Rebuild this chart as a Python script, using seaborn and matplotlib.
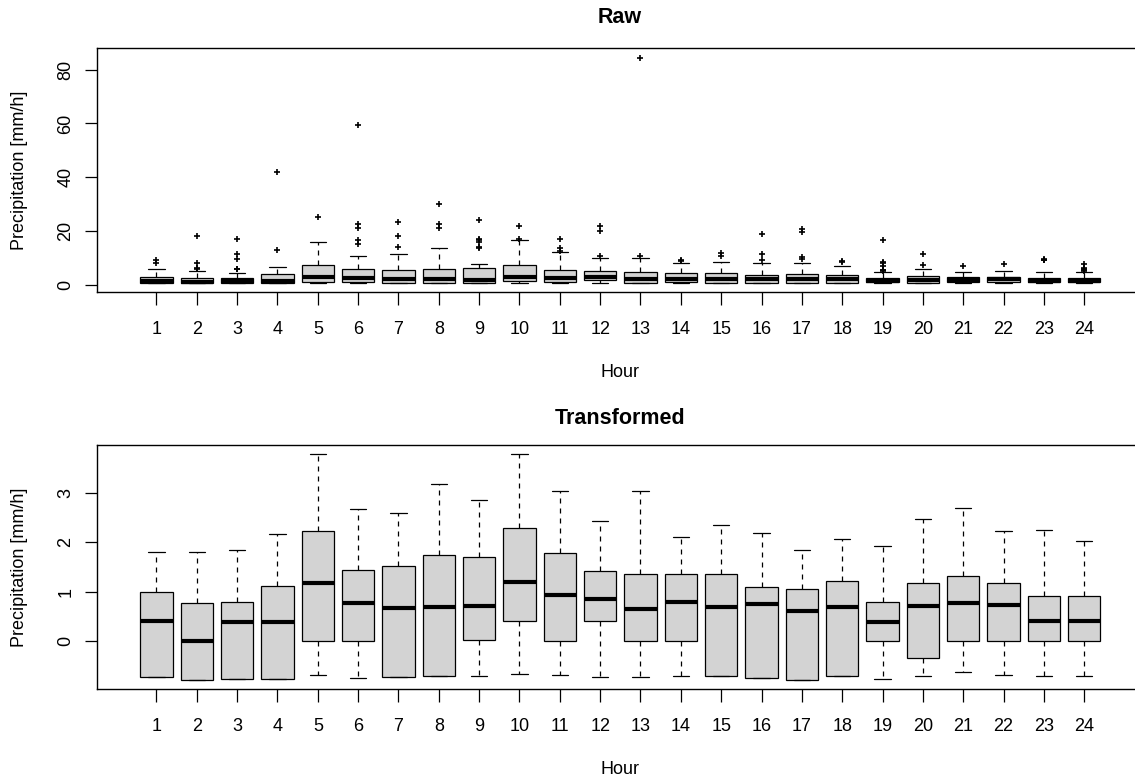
import matplotlib
matplotlib.use("Agg")
import matplotlib.pyplot as plt
import seaborn as sns

# Box statistics per hour
hours = list(range(1, 25))

raw_lo = [0.5, 0.45, 0.45, 0.45, 0.5, 0.5, 0.45, 0.45, 0.5, 0.5, 0.5, 0.5,
          0.5, 0.5, 0.45, 0.45, 0.45, 0.45, 0.45, 0.45, 0.5, 0.5, 0.5, 0.5]
raw_q1 = [0.5, 0.45, 0.45, 0.45, 1.0, 1.0, 0.45, 0.45, 0.8, 1.5, 0.9, 1.6,
          0.8, 0.9, 0.45, 0.45, 0.45, 0.45, 0.9, 0.7, 1.0, 1.0, 1.0, 1.0]
raw_med = [1.5, 1.0, 1.4, 1.4, 3.0, 2.5, 2.0, 2.0, 1.9, 3.0, 2.4, 2.7,
           2.0, 2.2, 2.0, 2.2, 2.0, 2.0, 1.5, 1.9, 1.9, 2.0, 1.5, 1.5]
raw_q3 = [3.0, 2.6, 2.6, 4.1, 7.5, 5.7, 5.6, 6.0, 6.1, 7.5, 5.6, 5.1,
          4.8, 4.2, 4.2, 3.7, 4.0, 3.6, 2.6, 3.3, 3.0, 3.0, 2.6, 2.6]
raw_hi = [6.0, 5.0, 4.5, 6.5, 16.0, 10.8, 11.5, 13.5, 7.7, 16.5, 12.0, 10.0,
          10.0, 8.0, 8.6, 8.1, 8.1, 7.1, 4.6, 5.7, 4.6, 5.1, 4.6, 4.6]
raw_out = [[8.1, 9.2], [5.8, 6.2, 8.0, 18.0], [5.8, 6.0, 9.5, 11.5, 17.0],
           [13.0, 42.0], [25.0], [15.0, 16.5, 21.0, 22.5, 59.5],
           [14.0, 18.0, 23.5], [21.0, 22.5, 30.0],
           [13.6, 14.0, 16.0, 16.5, 17.0, 24.0], [17.0, 22.0],
           [12.5, 13.5, 17.0], [10.5, 20.0, 22.0], [10.5, 84.5], [8.8, 9.3],
           [10.8, 11.8], [9.2, 11.5, 19.0], [9.7, 10.2, 19.5, 20.8], [8.3, 8.7],
           [5.0, 5.3, 5.6, 7.0, 8.0, 8.6, 16.5], [7.5, 11.5], [7.0], [7.6],
           [9.0, 9.2, 9.4], [5.2, 5.5, 5.8, 6.2, 7.6]]

tr_lo = [-0.74, -0.79, -0.78, -0.78, -0.68, -0.76, -0.73, -0.71, -0.70, -0.67, -0.69, -0.74,
         -0.74, -0.71, -0.71, -0.75, -0.79, -0.71, -0.77, -0.70, -0.63, -0.68, -0.70, -0.70]
tr_q1 = [-0.74, -0.79, -0.78, -0.78, 0.0, 0.0, -0.73, -0.71, 0.02, 0.41, 0.0, 0.40,
         0.0, 0.0, -0.71, -0.75, -0.79, -0.71, 0.0, -0.345, 0.0, 0.0, 0.0, 0.0]
tr_med = [0.40, 0.0, 0.385, 0.385, 1.17, 0.77, 0.66, 0.69, 0.70, 1.19, 0.94, 0.85,
          0.65, 0.80, 0.68, 0.74, 0.615, 0.68, 0.385, 0.70, 0.78, 0.72, 0.405, 0.405]
tr_q3 = [0.993, 0.78, 0.79, 1.12, 2.23, 1.446, 1.53, 1.74, 1.71, 2.30, 1.78, 1.42,
         1.36, 1.36, 1.35, 1.10, 1.05, 1.22, 0.80, 1.18, 1.32, 1.17, 0.92, 0.92]
tr_hi = [1.81, 1.81, 1.85, 2.16, 3.79, 2.67, 2.59, 3.19, 2.86, 3.79, 3.04, 2.43,
         3.05, 2.11, 2.36, 2.19, 1.84, 2.07, 1.93, 2.47, 2.70, 2.23, 2.24, 2.03]

sns.set_theme(style="ticks")
plt.rcParams['font.family'] = ['Liberation Sans', 'DejaVu Sans']
plt.rcParams['font.size'] = 13
plt.rcParams['text.color'] = 'black'
plt.rcParams['axes.labelcolor'] = 'black'


def box_stats(lo, q1, med, q3, hi, out=None):
    stats = []
    for i in range(len(lo)):
        stats.append({'whislo': lo[i], 'q1': q1[i], 'med': med[i], 'q3': q3[i],
                      'whishi': hi[i], 'fliers': out[i] if out else []})
    return stats


def draw_panel(ax, stats, ylim, yticks):
    ax.bxp(stats, positions=hours, widths=0.8, capwidths=0.4,
           patch_artist=True, manage_ticks=False,
           boxprops=dict(facecolor='#d3d3d3', edgecolor='black', linewidth=0.9),
           medianprops=dict(color='black', linewidth=3, solid_capstyle='butt'),
           whiskerprops=dict(color='black', linewidth=0.9, linestyle=(0, (4, 4))),
           capprops=dict(color='black', linewidth=0.9),
           flierprops=dict(marker='+', markersize=4, markeredgecolor='black',
                           markeredgewidth=1.2, linestyle='none'))
    ax.set_xlim(-0.468, 25.26)
    ax.set_ylim(*ylim)
    ax.set_xticks(hours)
    ax.set_xticklabels([str(h) for h in hours])
    ax.set_yticks(yticks)
    ax.set_yticklabels([str(t) for t in yticks], rotation=90, va='center')
    ax.tick_params(axis='both', length=9, width=0.9, color='black',
                   labelsize=13, labelcolor='black')
    ax.tick_params(axis='x', pad=11.5)
    ax.tick_params(axis='y', pad=7.5)
    for s in ['left', 'top', 'bottom']:
        ax.spines[s].set_color('black')
        ax.spines[s].set_linewidth(1.0)
    ax.spines['right'].set_visible(False)
    ax.set_facecolor('white')


fig = plt.figure(figsize=(11.35, 7.8), dpi=100)
fig.patch.set_facecolor('white')

ax1 = fig.add_axes([0.0857, 0.6253, 1 - 0.0857, 0.3128])
draw_panel(ax1, box_stats(raw_lo, raw_q1, raw_med, raw_q3, raw_hi, raw_out),
           (-2.83, 87.96), [0, 20, 40, 60, 80])

ax2 = fig.add_axes([0.0857, 0.1163, 1 - 0.0857, 0.3132])
draw_panel(ax2, box_stats(tr_lo, tr_q1, tr_med, tr_q3, tr_hi),
           (-0.979, 3.973), [0, 1, 2, 3])

fig.text(0.546, 0.9778, "Raw", ha='center', va='center', fontsize=15.5,
         fontweight='bold', color='black')
fig.text(0.546, 0.4637, "Transformed", ha='center', va='center', fontsize=15.5,
         fontweight='bold', color='black')
fig.text(0.546, 0.5227, "Hour", ha='center', va='center', fontsize=13, color='black')
fig.text(0.546, 0.0141, "Hour", ha='center', va='center', fontsize=13, color='black')
fig.text(0.0169, 0.7817, "Precipitation [mm/h]", ha='center', va='center',
         rotation=90, fontsize=13, color='black')
fig.text(0.0169, 0.2728, "Precipitation [mm/h]", ha='center', va='center',
         rotation=90, fontsize=13, color='black')

fig.savefig("out.png", dpi=100, facecolor='white')
